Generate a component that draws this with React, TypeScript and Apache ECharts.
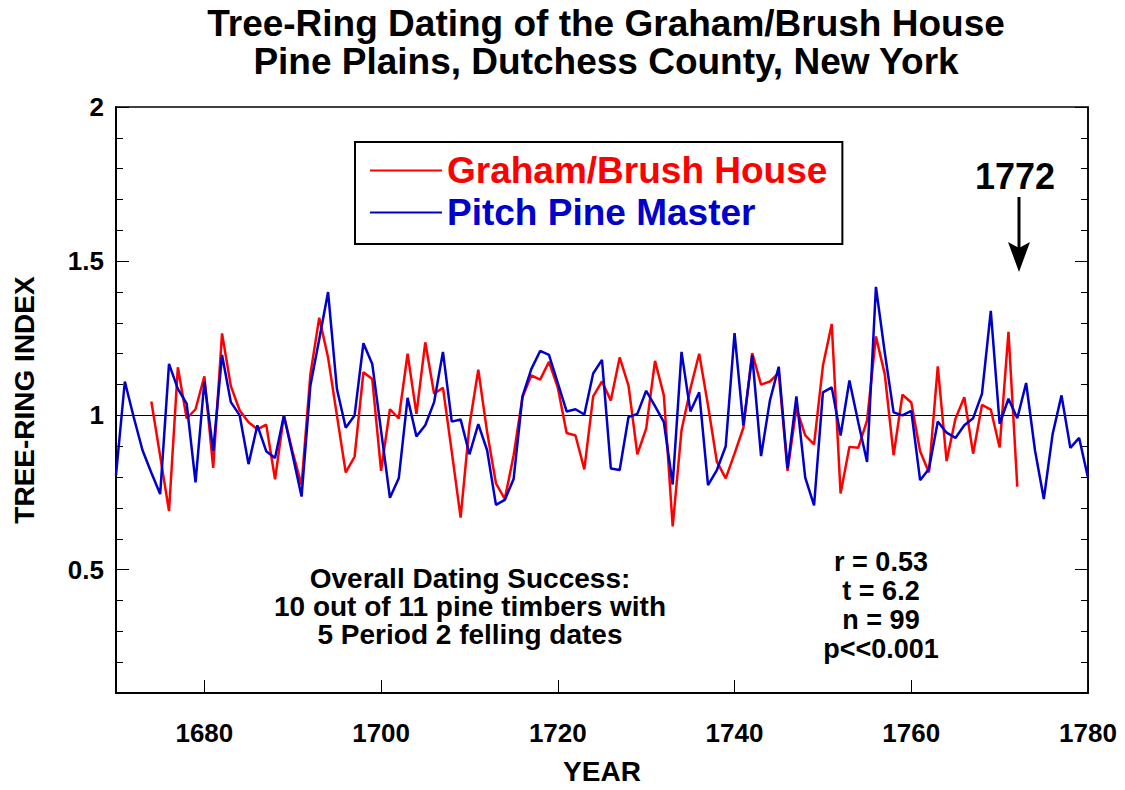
import React, { useEffect, useRef } from "react";
import * as echarts from "echarts";

// ---- Data ----
const masterStartYear = 1670;
const masterValues = [
  0.806, 1.11, 0.995, 0.887, 0.814, 0.745, 1.167, 1.086, 1.038, 0.783,
  1.11, 0.885, 1.196, 1.043, 1.0, 0.842, 0.968, 0.884, 0.862, 1.0,
  0.87, 0.737, 1.097, 1.247, 1.4, 1.086, 0.96, 1.0, 1.234, 1.167,
  0.95, 0.733, 0.796, 1.057, 0.932, 0.968, 1.043, 1.206, 0.98, 0.987,
  0.874, 0.972, 0.887, 0.71, 0.726, 0.794, 1.062, 1.15, 1.209, 1.196,
  1.105, 1.013, 1.02, 1.003, 1.136, 1.18, 0.828, 0.823, 0.995, 1.005,
  1.08, 1.03, 0.978, 0.776, 1.206, 1.013, 1.075, 0.774, 0.823, 0.9,
  1.267, 0.968, 1.195, 0.868, 1.048, 1.158, 0.828, 1.062, 0.798, 0.708,
  1.075, 1.091, 0.935, 1.113, 0.978, 0.849, 1.417, 1.204, 1.01, 1.0,
  1.015, 0.79, 0.826, 0.98, 0.944, 0.927, 0.968, 0.991, 1.07, 1.339,
  0.973, 1.054, 0.991, 1.105, 0.887, 0.729, 0.94, 1.065, 0.895, 0.927,
  0.798,
];

const houseStartYear = 1674;
const houseValues = [
  1.045, 0.868, 0.69, 1.156, 0.99, 1.02,
  1.127, 0.83, 1.266, 1.095, 1.016, 0.978, 0.955, 0.97, 0.793, 1.0,
  0.88, 0.774, 1.134, 1.317, 1.188, 1.0, 0.815, 0.866, 1.14, 1.118,
  0.82, 1.02, 0.99, 1.2, 1.005, 1.237, 1.07, 1.09, 0.882, 0.669,
  0.968, 1.148, 0.946, 0.78, 0.729, 0.871, 1.059, 1.13, 1.116, 1.174,
  1.09, 0.943, 0.935, 0.825, 1.062, 1.11, 1.048, 1.188, 1.097, 0.874,
  0.957, 1.177, 1.065, 0.64, 0.952, 1.086, 1.2, 1.032, 0.85, 0.796,
  0.876, 0.96, 1.202, 1.1, 1.11, 1.138, 0.82, 1.024, 0.935, 0.906,
  1.161, 1.296, 0.747, 0.898, 0.895, 0.984, 1.256, 1.134, 0.871, 1.067,
  1.042, 0.884, 0.815, 1.159, 0.852, 0.989, 1.059, 0.876, 1.034, 1.019,
  0.896, 1.271, 0.769,
];

const xTickYears = [1680, 1700, 1720, 1740, 1760, 1780];
const yLabelValues = [0.5, 1, 1.5, 2];
const yMinorTicks = [
  0.1, 0.2, 0.3, 0.4, 0.5, 0.6, 0.7, 0.8, 0.9, 1.0,
  1.1, 1.2, 1.3, 1.4, 1.5, 1.6, 1.7, 1.8, 1.9, 2.0,
];

const titleLines = [
  "Tree-Ring Dating of the Graham/Brush House",
  "Pine Plains, Dutchess County, New York",
];
const successLines = [
  "Overall Dating Success:",
  "10 out of 11 pine timbers with",
  "5 Period 2 felling dates",
];
const statLines = ["r = 0.53", "t = 6.2", "n = 99", "p<<0.001"];
const houseName = "Graham/Brush House";
const masterName = "Pitch Pine Master";
const fellingYear = "1772";

const FONT = "'Liberation Sans', Arial, Helvetica, sans-serif";
const RED = "#ff0000";
const BLUE = "#0000cc";

const toPairs = (start: number, vals: number[]) =>
  vals.map((v, i) => [start + i, v]);

export default function App() {
  const ref = useRef<HTMLDivElement>(null);

  useEffect(() => {
    if (!ref.current) return;
    const chart = echarts.init(ref.current, undefined, { renderer: "svg" });

    const baseY = {
      type: "value",
      min: 0.1,
      max: 2,
      splitLine: { show: false },
    };

    const textStyleBold = (size: number) => ({
      fontFamily: FONT,
      fontWeight: "bold",
      fontSize: size,
      fill: "#000",
    });

    chart.setOption({
      animation: false,
      backgroundColor: "#fff",
      grid: {
        left: 116,
        right: 37,
        top: 107,
        bottom: 93,
        show: true,
        borderColor: "#000",
        borderWidth: 1.5,
        backgroundColor: "transparent",
      },
      legend: {
        left: 355,
        top: 142,
        orient: "vertical",
        icon: "rect",
        itemWidth: 72,
        itemHeight: 2,
        itemGap: 3,
        selectedMode: false,
        borderColor: "#000",
        borderWidth: 2,
        backgroundColor: "#fff",
        padding: [9, 15, 12, 15],
        textStyle: {
          fontFamily: FONT,
          fontWeight: "bold",
          fontSize: 37,
          lineHeight: 39,
        },
        data: [
          { name: houseName, textStyle: { color: RED } },
          { name: masterName, textStyle: { color: BLUE } },
        ],
      },
      xAxis: {
        type: "value",
        min: 1670,
        max: 1780,
        splitLine: { show: false },
        axisLine: { show: true, lineStyle: { color: "#000", width: 2 } },
        axisTick: {
          show: true,
          inside: true,
          length: 13,
          customValues: xTickYears,
          lineStyle: { color: "#000", width: 1 },
        },
        axisLabel: {
          customValues: xTickYears,
          margin: 27,
          fontFamily: FONT,
          fontWeight: "bold",
          fontSize: 26,
          color: "#000",
          formatter: (v: number) => String(v),
        },
        name: "YEAR",
        nameLocation: "middle",
        nameGap: 64,
        nameTextStyle: {
          fontFamily: FONT,
          fontWeight: "bold",
          fontSize: 28,
          color: "#000",
        },
      },
      yAxis: [
        {
          ...baseY,
          position: "left",
          axisLine: { show: true, lineStyle: { color: "#000", width: 2 } },
          axisTick: {
            show: true,
            inside: true,
            length: 7,
            customValues: yMinorTicks,
            lineStyle: { color: "#000", width: 1 },
          },
          axisLabel: {
            customValues: yLabelValues,
            margin: 12,
            fontFamily: FONT,
            fontWeight: "bold",
            fontSize: 26,
            color: "#000",
            formatter: (v: number) => String(v),
          },
          name: "TREE-RING INDEX",
          nameLocation: "middle",
          nameGap: 78,
          nameTextStyle: {
            fontFamily: FONT,
            fontWeight: "bold",
            fontSize: 28,
            color: "#000",
          },
        },
        {
          ...baseY,
          position: "left",
          axisLine: { show: false },
          axisLabel: { show: false },
          axisTick: {
            show: true,
            inside: true,
            length: 13,
            customValues: yLabelValues,
            lineStyle: { color: "#000", width: 1 },
          },
        },
        {
          ...baseY,
          position: "right",
          axisLine: { show: true, lineStyle: { color: "#000", width: 1.5 } },
          axisLabel: { show: false },
          axisTick: {
            show: true,
            inside: true,
            length: 7,
            customValues: yMinorTicks,
            lineStyle: { color: "#000", width: 1 },
          },
        },
        {
          ...baseY,
          position: "right",
          axisLine: { show: false },
          axisLabel: { show: false },
          axisTick: {
            show: true,
            inside: true,
            length: 13,
            customValues: yLabelValues,
            lineStyle: { color: "#000", width: 1 },
          },
        },
      ],
      series: [
        {
          name: houseName,
          type: "line",
          data: toPairs(houseStartYear, houseValues),
          yAxisIndex: 0,
          showSymbol: false,
          symbol: "none",
          itemStyle: { color: RED },
          lineStyle: { color: RED, width: 2.5 },
          z: 3,
        },
        {
          name: masterName,
          type: "line",
          data: toPairs(masterStartYear, masterValues),
          yAxisIndex: 0,
          showSymbol: false,
          symbol: "none",
          itemStyle: { color: BLUE },
          lineStyle: { color: BLUE, width: 2.5 },
          z: 4,
          markLine: {
            silent: true,
            symbol: ["none", "none"],
            label: { show: false },
            lineStyle: { color: "#000", width: 1, type: "solid" },
            data: [{ yAxis: 1 }],
            z: 2,
          },
        },
      ],
      graphic: [
        ...titleLines.map((t, i) => ({
          type: "text",
          x: 606,
          y: 23 + i * 38,
          style: {
            text: t,
            ...textStyleBold(37),
            textAlign: "center",
            textVerticalAlign: "middle",
          },
        })),
        ...successLines.map((t, i) => ({
          type: "text",
          x: 470,
          y: 578 + i * 28,
          style: {
            text: t,
            ...textStyleBold(28),
            textAlign: "center",
            textVerticalAlign: "middle",
          },
        })),
        ...statLines.map((t, i) => ({
          type: "text",
          x: 881,
          y: 562 + i * 29,
          style: {
            text: t,
            ...textStyleBold(27),
            textAlign: "center",
            textVerticalAlign: "middle",
          },
        })),
        {
          type: "text",
          x: 1015,
          y: 176,
          style: {
            text: fellingYear,
            ...textStyleBold(36),
            textAlign: "center",
            textVerticalAlign: "middle",
          },
        },
        {
          type: "line",
          shape: { x1: 1019, y1: 197, x2: 1019, y2: 250 },
          style: { stroke: "#000", lineWidth: 3 },
        },
        {
          type: "polygon",
          shape: {
            points: [
              [1008, 242],
              [1019, 248],
              [1030, 242],
              [1019, 272],
            ],
          },
          style: { fill: "#000" },
        },
      ],
    });

    return () => chart.dispose();
  }, []);

  return (
    <div
      ref={ref}
      style={{ position: "fixed", left: 0, top: 0, width: 1125, height: 790 }}
    />
  );
}
